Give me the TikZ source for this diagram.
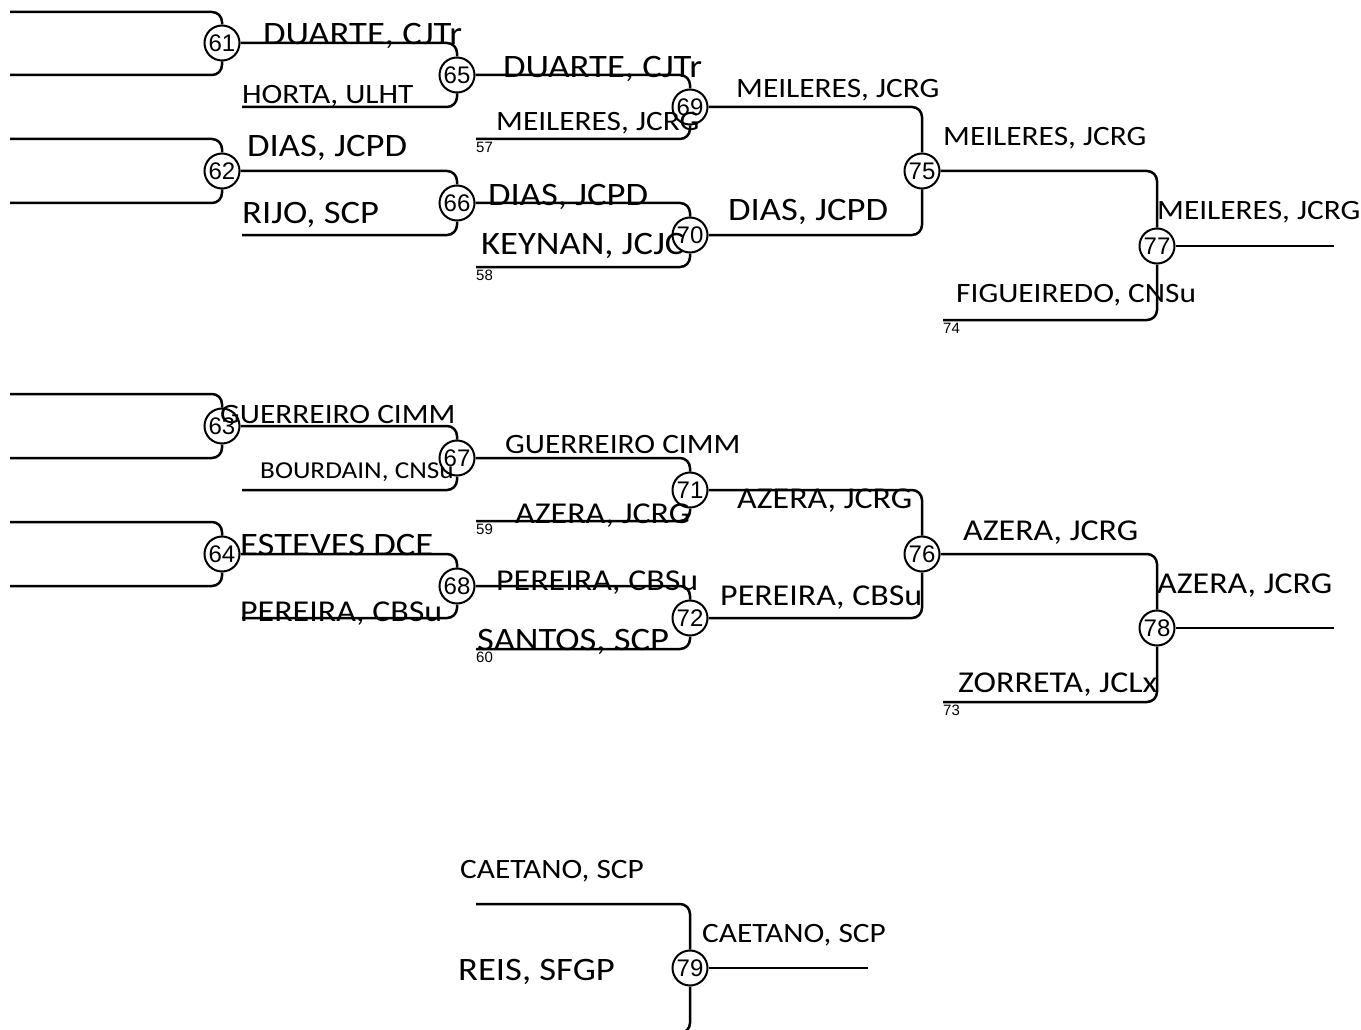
\documentclass[tikz,border=0pt]{standalone}
\usepackage{fontspec}
\setmainfont{Carlito}[FakeStretch=1.12]
\newfontfamily\numfont{Liberation Sans}
\usetikzlibrary{positioning}

\begin{document}
\begin{tikzpicture}[
    x=1pt, y=-1pt,
    % Core Shapes
    game/.style={circle, draw, line width=2pt, fill=white, minimum size=35pt, inner sep=0pt, font=\numfont\fontsize{24}{24}\selectfont},
    seed/.style={inner sep=0pt, font=\numfont\fontsize{15}{15}\selectfont},
    namebig/.style={anchor=base west, inner sep=0pt, font=\fontsize{32.7}{32.7}\selectfont},
    namemid/.style={anchor=base west, inner sep=0pt, font=\fontsize{30.3}{30.3}\selectfont},
    namesm/.style={anchor=base west, inner sep=0pt, font=\fontsize{28}{28}\selectfont},
    namexs/.style={anchor=base west, inner sep=0pt, font=\fontsize{24.3}{24.3}\selectfont},
    % Connectors
    bk/.style={line width=2.5pt, rounded corners=10pt},
]
\useasboundingbox (0,0) rectangle (1361,1030);

% 1. Games
\node[game] (m61) at (222,43) {61};
\node[game] (m62) at (222,171) {62};
\node[game] (m63) at (222,426) {63};
\node[game] (m64) at (222,554) {64};
\node[game] (m65) at (457,75) {65};
\node[game] (m66) at (457,203) {66};
\node[game] (m67) at (457,458) {67};
\node[game] (m68) at (457,586) {68};
\node[game] (m69) at (690,107) {69};
\node[game] (m70) at (690,235) {70};
\node[game] (m71) at (690,490) {71};
\node[game] (m72) at (690,618) {72};
\node[game] (m75) at (922,171) {75};
\node[game] (m76) at (922,554) {76};
\node[game] (m77) at (1157,246) {77};
\node[game] (m78) at (1157,628) {78};
\node[game] (m79) at (690,968) {79};

% Free line ends
\coordinate (a61) at (10,12);  \coordinate (b61) at (10,75);
\coordinate (a62) at (10,139); \coordinate (b62) at (10,203);
\coordinate (a63) at (10,394); \coordinate (b63) at (10,458);
\coordinate (a64) at (10,522); \coordinate (b64) at (10,586);
\coordinate (p65) at (242,107);
\coordinate (p66) at (242,235);
\coordinate (p67) at (242,490);
\coordinate (p68) at (242,618);
\coordinate (p69) at (476,139);
\coordinate (p70) at (476,267);
\coordinate (p71) at (476,521);
\coordinate (p72) at (476,649);
\coordinate (p77) at (943,320);
\coordinate (p78) at (943,702);
\coordinate (a79) at (476,904);
\coordinate (b79) at (476,1033);
\coordinate (out77) at (1334,246);
\coordinate (out78) at (1334,628);
\coordinate (out79) at (868,968);

% 2. Bracket lines
\draw[bk] (a61) -| (m61);
\draw[bk] (b61) -| (m61);
\draw[bk] (a62) -| (m62);
\draw[bk] (b62) -| (m62);
\draw[bk] (a63) -| (m63);
\draw[bk] (b63) -| (m63);
\draw[bk] (a64) -| (m64);
\draw[bk] (b64) -| (m64);

\draw[bk] (m61) -| (m65);
\draw[bk] (p65) -| (m65);
\draw[bk] (m62) -| (m66);
\draw[bk] (p66) -| (m66);
\draw[bk] (m63) -| (m67);
\draw[bk] (p67) -| (m67);
\draw[bk] (m64) -| (m68);
\draw[bk] (p68) -| (m68);

\draw[bk] (m65) -| (m69);
\draw[bk] (p69) -| (m69);
\draw[bk] (m66) -| (m70);
\draw[bk] (p70) -| (m70);
\draw[bk] (m67) -| (m71);
\draw[bk] (p71) -| (m71);
\draw[bk] (m68) -| (m72);
\draw[bk] (p72) -| (m72);

\draw[bk] (m69) -| (m75);
\draw[bk] (m70) -| (m75);
\draw[bk] (m71) -| (m76);
\draw[bk] (m72) -| (m76);

\draw[bk] (m75) -| (m77);
\draw[bk] (p77) -| (m77);
\draw[bk] (m77) -- (out77);
\draw[bk] (m76) -| (m78);
\draw[bk] (p78) -| (m78);
\draw[bk] (m78) -- (out78);

\draw[bk] (a79) -| (m79);
\draw[bk] (b79) -| (m79);
\draw[bk] (m79) -- (out79);

% 3. Seeds
\node[seed, below right=3pt and 0pt of p69] (s57) {57};
\node[seed, below right=3pt and 0pt of p70] (s58) {58};
\node[seed, below right=3pt and 0pt of p71] (s59) {59};
\node[seed, below right=3pt and 0pt of p72] (s60) {60};
\node[seed, below right=3pt and 0pt of p78] (s73) {73};
\node[seed, below right=3pt and 0pt of p77] (s74) {74};

% 4. Names
\node[namebig] (duarte1) at (263,45) {DUARTE, CJTr};
\node[namesm] (horta) at (242,104) {HORTA, ULHT};
\node[namebig] (dias1) at (247,157) {DIAS, JCPD};
\node[namebig] (rijo) at (242,223) {RIJO, SCP};
\node[namebig] (duarte2) at (503,78) {DUARTE, CJTr};
\node[namesm] (meileres1) at (496,131) {MEILERES, JCRG};
\node[namesm] (meileres2) at (736,98) {MEILERES, JCRG};
\node[namebig] (dias2) at (488,205) {DIAS, JCPD};
\node[namebig] (keynan) at (481,254) {KEYNAN, JCJC};
\node[namebig] (dias3) at (728,221) {DIAS, JCPD};
\node[namesm] (meileres3) at (943,146) {MEILERES, JCRG};
\node[namesm] (meileres4) at (1157,219) {MEILERES, JCRG};
\node[namesm] (figueiredo) at (956,302) {FIGUEIREDO, CNSu};

\node[namesm] (guerreiro1) at (220,423) {GUERREIRO CIMM};
\node[namexs] (bourdain) at (260,478) {BOURDAIN, CNSu};
\node[namesm] (guerreiro2) at (505,453) {GUERREIRO CIMM};
\node[namemid] (azera1) at (515,523) {AZERA, JCRG};
\node[namebig] (esteves) at (240,555) {ESTEVES DCE};
\node[namemid] (pereira1) at (240,621) {PEREIRA, CBSu};
\node[namemid] (azera2) at (737,508) {AZERA, JCRG};
\node[namemid] (pereira2) at (496,590) {PEREIRA, CBSu};
\node[namebig] (santos) at (477,650) {SANTOS, SCP};
\node[namemid] (pereira3) at (720,605) {PEREIRA, CBSu};
\node[namemid] (azera3) at (963,540) {AZERA, JCRG};
\node[namemid] (azera4) at (1157,593) {AZERA, JCRG};
\node[namemid] (zorreta) at (958,692) {ZORRETA, JCLx};

\node[namesm] (caetano1) at (460,878) {CAETANO, SCP};
\node[namesm] (caetano2) at (702,942) {CAETANO, SCP};
\node[namebig] (reis) at (458,980) {REIS, SFGP};

\end{tikzpicture}
\end{document}
